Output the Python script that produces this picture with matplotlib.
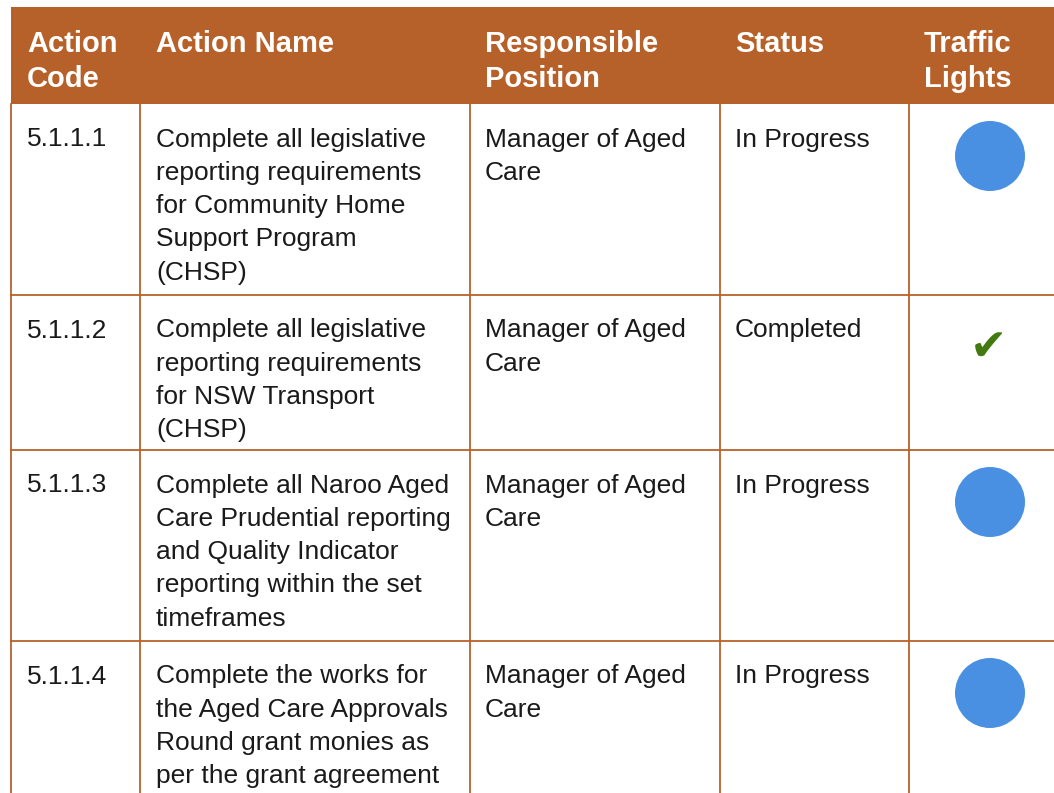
import matplotlib.pyplot as plt
from matplotlib import font_manager

# table contents
headers = ["Action\nCode", "Action Name", "Responsible\nPosition", "Status", "Traffic\nLights"]
codes = ["5.1.1.1", "5.1.1.2", "5.1.1.3", "5.1.1.4"]
names = [
    "Complete all legislative\nreporting requirements\nfor Community Home\nSupport Program\n(CHSP)",
    "Complete all legislative\nreporting requirements\nfor NSW Transport\n(CHSP)",
    "Complete all Naroo Aged\nCare Prudential reporting\nand Quality Indicator\nreporting within the set\ntimeframes",
    "Complete the works for\nthe Aged Care Approvals\nRound grant monies as\nper the grant agreement",
]
positions = ["Manager of Aged\nCare"] * 4
statuses = ["In Progress", "Completed", "In Progress", "In Progress"]
lights = ["circle", "tick", "circle", "circle"]

brown = "#B7612A"
blue = "#4A90E2"
green = "#437A0F"

# pick the Arial-metric font files directly
reg_file, bold_file = None, None
for f in font_manager.findSystemFonts():
    name = f.split("/")[-1]
    if name == "LiberationSans-Regular.ttf":
        reg_file = f
    if name == "LiberationSans-Bold.ttf":
        bold_file = f
if reg_file:
    body_font = font_manager.FontProperties(fname=reg_file, size=19)
else:
    body_font = font_manager.FontProperties(family="Liberation Sans", size=19)
if bold_file:
    head_font = font_manager.FontProperties(fname=bold_file, size=21)
else:
    head_font = font_manager.FontProperties(family="Liberation Sans", weight="bold", size=21)

# layout in pixels
W, H = 1054, 793
left = 11
top = 7
header_bottom = 104
col_lines = [140, 470, 720, 909]
text_x = [27, 156, 485, 735, 924]
row_tops = [104, 295, 450, 641]
line_h = 33.3

fig = plt.figure(figsize=(10.54, 7.93), dpi=100)
ax = fig.add_axes([0, 0, 1, 1])
ax.set_xlim(0, W)
ax.set_ylim(H, 0)
ax.axis("off")

# header band
ax.add_patch(plt.Rectangle((left, top), W - left, header_bottom - top, color=brown, lw=0))
for x, h in zip(text_x, headers):
    for i, line in enumerate(h.split("\n")):
        ax.text(x, 52 + i * 35, line, color="white", fontproperties=head_font,
                va="baseline", ha="left")

# grid lines
ax.plot([left, left], [header_bottom, H], color=brown, lw=1.3)
for x in col_lines:
    ax.plot([x, x], [header_bottom, H], color=brown, lw=1.3)
for y in row_tops[1:]:
    ax.plot([left, W], [y, y], color=brown, lw=1.3)

# body rows
for r in range(len(codes)):
    base = row_tops[r] + 42.5
    cells = [codes[r], names[r], positions[r], statuses[r]]
    for c, cell in enumerate(cells):
        for i, line in enumerate(cell.split("\n")):
            ax.text(text_x[c], base + i * line_h, line, color="#1a1a1a",
                    fontproperties=body_font, va="baseline", ha="left")
    cy = row_tops[r] + 52
    if lights[r] == "circle":
        ax.add_patch(plt.Circle((990, cy), 35, color=blue, lw=0))
    else:
        ax.text(988, cy, "\u2714", color=green, fontsize=32, family="DejaVu Sans",
                ha="center", va="center")

fig.savefig("out.png", dpi=100)
